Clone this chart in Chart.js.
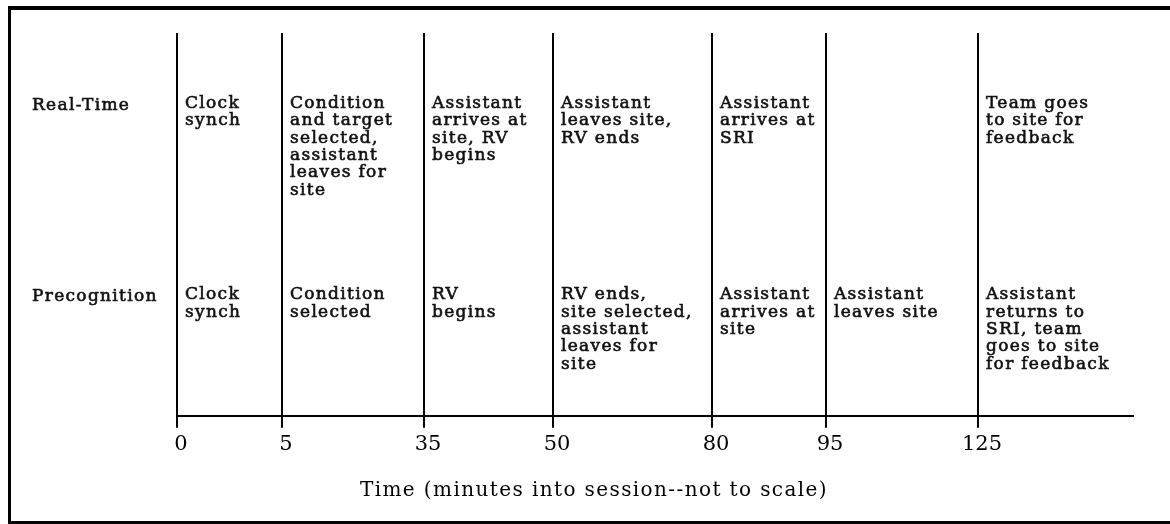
<!DOCTYPE html>
<html>
<head>
<meta charset="utf-8">
<title>Session timeline</title>
<script src="https://cdn.jsdelivr.net/npm/chart.js@4.4.0/dist/chart.umd.min.js"></script>
<style>
    html, body { margin: 0; padding: 0; background: #fff; }
    #wrap { position: relative; width: 1170px; height: 524px; overflow: hidden; }
    #chart { position: absolute; left: 0; top: 0; }
    /* the scanned frame: thick left, top and bottom rules, right edge off the page */
    #frame {
        position: absolute; left: 8px; top: 6px; width: 1180px; height: 518px;
        box-sizing: border-box;
        border-left: 3px solid #000; border-top: 4px solid #000; border-bottom: 3px solid #000;
        pointer-events: none;
    }
</style>
</head>
<body>
<div id="wrap">
    <canvas id="chart" width="1170" height="524"></canvas>
    <div id="frame"></div>
</div>
<script>
// Minutes into the session at which each step happens
const times = [0, 5, 35, 50, 80, 95, 125];

const rowLabels = ['Real-Time', 'Precognition'];

// What happens in each interval (one entry per time, lines as printed)
const realTimeEvents = [
    ['Clock', 'synch'],
    ['Condition', 'and target', 'selected,', 'assistant', 'leaves for', 'site'],
    ['Assistant', 'arrives at', 'site, RV', 'begins'],
    ['Assistant', 'leaves site,', 'RV ends'],
    ['Assistant', 'arrives at', 'SRI'],
    [],
    ['Team goes', 'to site for', 'feedback']
];

const precogEvents = [
    ['Clock', 'synch'],
    ['Condition', 'selected'],
    ['RV', 'begins'],
    ['RV ends,', 'site selected,', 'assistant', 'leaves for', 'site'],
    ['Assistant', 'arrives at', 'site'],
    ['Assistant', 'leaves site'],
    ['Assistant', 'returns to', 'SRI, team', 'goes to site', 'for feedback']
];

const axisTitle = 'Time (minutes into session--not to scale)';

// Layout: the axis is not to scale, so every time gets its own slot along it
const slotPos = [0, 105, 247, 376, 535, 649, 801];
const axisEnd = 956;
const rowY = [0.804, 0.304];   // first text baseline of each row, in y-axis units

const FONT = '"DejaVu Serif", "Liberation Serif", serif';

const eventText = {
    id: 'eventText',
    afterDatasetsDraw(chart) {
        const ctx = chart.ctx;
        const xs = chart.scales.x;
        const ys = chart.scales.y;
        const lineH = 17.3;
        ctx.save();
        ctx.fillStyle = '#111';
        ctx.strokeStyle = '#111';
        ctx.lineWidth = 0.6;
        ctx.font = '17px ' + FONT;
        ctx.letterSpacing = '1.3px';
        ctx.textAlign = 'left';
        ctx.textBaseline = 'alphabetic';
        const put = (t, x, y) => { ctx.fillText(t, x, y); ctx.strokeText(t, x, y); };
        [realTimeEvents, precogEvents].forEach((row, r) => {
            const y0 = ys.getPixelForValue(rowY[r]);
            put(rowLabels[r], 32, y0 + 2);
            row.forEach((lines, i) => {
                const x = xs.getPixelForValue(slotPos[i]) + 8;
                lines.forEach((t, k) => put(t, x, y0 + k * lineH));
            });
        });
        ctx.restore();
    }
};

const datasets = times.map((t, i) => ({
    label: String(t),
    data: [{ x: slotPos[i], y: 0 }, { x: slotPos[i], y: 1 }],
    borderColor: '#000',
    borderWidth: 2,
    pointRadius: 0,
    fill: false,
    clip: false
}));

const chart = new Chart(document.getElementById('chart'), {
    type: 'line',
    data: { datasets },
    options: {
        responsive: false,
        animation: false,
        layout: { padding: { left: 18, right: 0, top: 33, bottom: 0 } },
        plugins: {
            legend: { display: false },
            tooltip: { enabled: false },
            title: {
                display: true,
                position: 'bottom',
                text: axisTitle,
                color: '#000',
                font: { family: FONT, size: 20, weight: 'normal' },
                padding: { top: 18, bottom: 21 }
            }
        },
        scales: {
            x: {
                type: 'linear',
                min: 0,
                max: axisEnd,
                afterBuildTicks: s => { s.ticks = slotPos.map(v => ({ value: v })); },
                ticks: {
                    callback: (v, i) => times[i],
                    color: '#000',
                    font: { family: FONT, size: 21 },
                    padding: 4,
                    labelOffset: 4,
                    autoSkip: false,
                    maxRotation: 0
                },
                grid: { drawOnChartArea: false, drawTicks: true, tickLength: 12, color: '#000', lineWidth: 2 },
                border: { display: true, color: '#000', width: 2 }
            },
            y: {
                min: 0,
                max: 1,
                ticks: { display: false },
                grid: { display: false },
                border: { display: false },
                afterFit: s => { s.width = 159; }
            },
            y2: {
                position: 'right',
                min: 0,
                max: 1,
                ticks: { display: false },
                grid: { display: false },
                border: { display: false },
                afterFit: s => { s.width = 37; }
            }
        }
    },
    plugins: [eventText]
});

// the printed caption is letter-spaced; widen it the same way
const titleDraw = chart.titleBlock.draw;
chart.titleBlock.draw = function () {
    this.ctx.save();
    this.ctx.letterSpacing = '1.4px';
    titleDraw.call(this);
    this.ctx.restore();
};
chart.draw();
</script>
</body>
</html>
